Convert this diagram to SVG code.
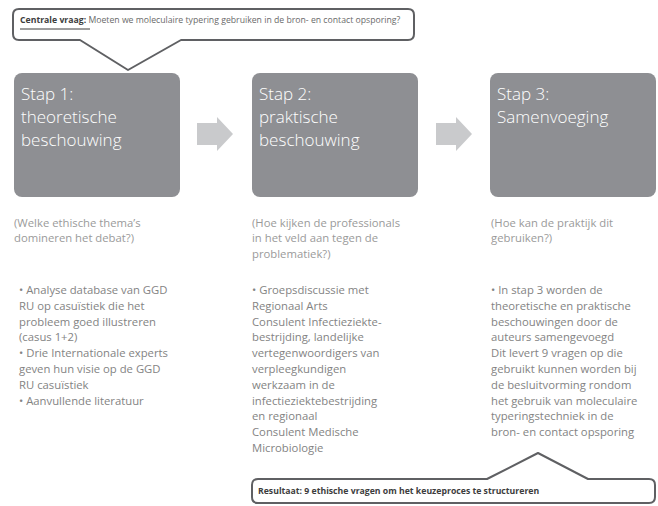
<svg xmlns="http://www.w3.org/2000/svg" width="658" height="506" viewBox="0 0 658 506">
  <style>
    .callout { fill: #ffffff; stroke: #5f6063; stroke-width: 2; stroke-linejoin: round; }
    .step { fill: #8e8f93; }
    .step-title { font-family: "Open Sans", "Noto Sans", sans-serif; font-weight: 300; font-size: 17px; fill: #ffffff; }
    .flow { fill: #c9cacc; }
    .q { font-family: "Open Sans", "Noto Sans", sans-serif; font-size: 11.3px; fill: #9a9a9a; }
    .body { font-family: "Open Sans", "Noto Sans", sans-serif; font-size: 11.3px; fill: #838383; }
    .lbl { font-family: "Open Sans", "Noto Sans", sans-serif; font-size: 8.7px; fill: #6a6a6a; }
    .lbl-b { font-weight: 700; fill: #3d3d3d; }
  </style>
  <rect width="658" height="506" fill="#ffffff"/>

  <!-- top question callout -->
  <g id="centrale-vraag">
    <path class="callout" d="M19 9 H408 Q414 9 414 15 V34 Q414 40 408 40 H181 L128 70 L80 40 H19 Q13 40 13 34 V15 Q13 9 19 9 Z"/>
    <text class="lbl" x="20" y="23"><tspan class="lbl-b">Centrale vraag:</tspan> Moeten we moleculaire typering gebruiken in de bron- en contact opsporing?</text>
    <line x1="20" y1="29" x2="90" y2="29" stroke="#3d3d3d" stroke-width="1"/>
  </g>

  <!-- steps -->
  <g id="stap1">
    <rect class="step" x="14" y="73" width="166" height="124" rx="8"/>
    <text class="step-title" x="21"><tspan x="21" y="100">Stap 1:</tspan><tspan x="21" y="123">theoretische</tspan><tspan x="21" y="146">beschouwing</tspan></text>
  </g>
  <g id="stap2">
    <rect class="step" x="252" y="73" width="166" height="124" rx="8"/>
    <text class="step-title" x="259"><tspan x="259" y="100">Stap 2:</tspan><tspan x="259" y="123">praktische</tspan><tspan x="259" y="146">beschouwing</tspan></text>
  </g>
  <g id="stap3">
    <rect class="step" x="490" y="73" width="166" height="124" rx="8"/>
    <text class="step-title" x="497"><tspan x="497" y="100">Stap 3:</tspan><tspan x="497" y="123">Samenvoeging</tspan></text>
  </g>

  <!-- flow arrows between steps -->
  <g id="connectors">
    <polygon class="flow" points="197,123 217,123 217,117 233,134 217,151 217,145 197,145"/>
    <polygon class="flow" points="436,123 456,123 456,117 472,134 456,151 456,145 436,145"/>
  </g>

  <!-- column 1 -->
  <g id="kolom1">
    <text class="q"><tspan x="14" y="227">(Welke ethische thema’s</tspan><tspan x="14" y="242">domineren het debat?)</tspan></text>
    <text class="body">
      <tspan x="19" y="294">• Analyse database van GGD</tspan>
      <tspan x="19" y="310">RU op casuïstiek die het</tspan>
      <tspan x="19" y="326">probleem goed illustreren</tspan>
      <tspan x="19" y="341">(casus 1+2)</tspan>
      <tspan x="19" y="357">• Drie Internationale experts</tspan>
      <tspan x="19" y="373">geven hun visie op de GGD</tspan>
      <tspan x="19" y="389">RU casuïstiek</tspan>
      <tspan x="19" y="405">• Aanvullende literatuur</tspan>
    </text>
  </g>

  <!-- column 2 -->
  <g id="kolom2">
    <text class="q"><tspan x="252" y="227">(Hoe kijken de professionals</tspan><tspan x="252" y="242">in het veld aan tegen de</tspan><tspan x="252" y="258">problematiek?)</tspan></text>
    <text class="body">
      <tspan x="252" y="294">• Groepsdiscussie met</tspan>
      <tspan x="252" y="310">Regionaal Arts</tspan>
      <tspan x="252" y="326">Consulent Infectieziekte-</tspan>
      <tspan x="252" y="341">bestrijding, landelijke</tspan>
      <tspan x="252" y="357">vertegenwoordigers van</tspan>
      <tspan x="252" y="373">verpleegkundigen</tspan>
      <tspan x="252" y="389">werkzaam in de</tspan>
      <tspan x="252" y="405">infectieziektebestrijding</tspan>
      <tspan x="252" y="420">en regionaal</tspan>
      <tspan x="252" y="436">Consulent Medische</tspan>
      <tspan x="252" y="452">Microbiologie</tspan>
    </text>
  </g>

  <!-- column 3 -->
  <g id="kolom3">
    <text class="q"><tspan x="491" y="227">(Hoe kan de praktijk dit</tspan><tspan x="491" y="242">gebruiken?)</tspan></text>
    <text class="body">
      <tspan x="491" y="294">• In stap 3 worden de</tspan>
      <tspan x="491" y="310">theoretische en praktische</tspan>
      <tspan x="491" y="326">beschouwingen door de</tspan>
      <tspan x="491" y="341">auteurs samengevoegd</tspan>
      <tspan x="491" y="357">Dit levert 9 vragen op die</tspan>
      <tspan x="491" y="373">gebruikt kunnen worden bij</tspan>
      <tspan x="491" y="389">de besluitvorming rondom</tspan>
      <tspan x="491" y="405">het gebruik van moleculaire</tspan>
      <tspan x="491" y="420">typeringstechniek in de</tspan>
      <tspan x="491" y="436">bron- en contact opsporing</tspan>
    </text>
  </g>

  <!-- result callout -->
  <g id="resultaat">
    <path class="callout" d="M258 479 H487 L538 453 L588 479 H649 Q655 479 655 485 V497 Q655 503 649 503 H258 Q252 503 252 497 V485 Q252 479 258 479 Z"/>
    <text class="lbl lbl-b" x="258" y="494">Resultaat: 9 ethische vragen om het keuzeproces te structureren</text>
  </g>
</svg>
